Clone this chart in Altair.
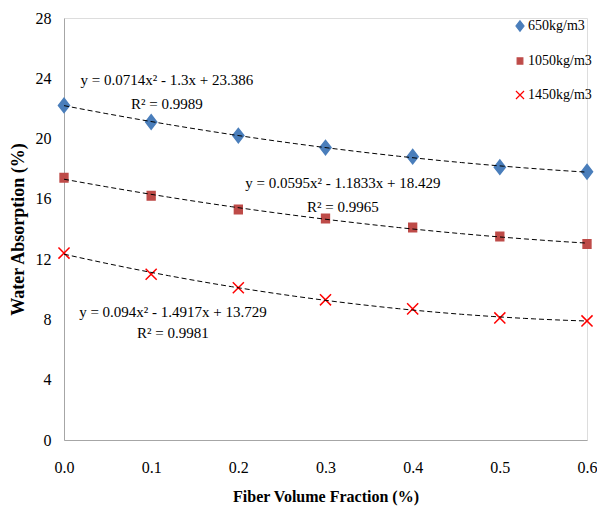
import altair as alt
import pandas as pd

fiber = [0.0, 0.1, 0.2, 0.3, 0.4, 0.5, 0.6]
w650 = [22.2, 21.1, 20.2, 19.4, 18.8, 18.1, 17.8]
w1050 = [17.4, 16.2, 15.3, 14.7, 14.1, 13.5, 13.0]
w1450 = [12.4, 11.0, 10.1, 9.3, 8.7, 8.1, 7.9]
series_names = ["650kg/m3", "1050kg/m3", "1450kg/m3"]

eq_text = [
    "y = 0.0714x² - 1.3x + 23.386", "R² = 0.9989",
    "y = 0.0595x² - 1.1833x + 18.429", "R² = 0.9965",
    "y = 0.094x² - 1.4917x + 13.729", "R² = 0.9981",
]
eq_x = [0.118, 0.118, 0.32, 0.32, 0.125, 0.125]
eq_y = [23.9, 22.3, 17.05, 15.45, 8.5, 7.1]

rows = []
for name, vals in zip(series_names, [w650, w1050, w1450]):
    for xv, yv in zip(fiber, vals):
        rows.append({"x": xv, "y": yv, "series": name})
df = pd.DataFrame(rows)
ann = pd.DataFrame({"x": eq_x, "y": eq_y, "t": eq_text})

FONT = "Liberation Serif"
xs = alt.Scale(domain=[0, 0.6], nice=False)
ys = alt.Scale(domain=[0, 28], nice=False)

diamond = "M0,-1.1L0.85,0L0,1.1L-0.85,0Z"
square = "M-0.6,-0.65H0.6V0.65H-0.6Z"
cross = "M-0.85,-0.85L0.85,0.85M0.85,-0.85L-0.85,0.85"

legend = alt.Legend(
    title=None, orient="none", legendX=449, legendY=1,
    labelFont=FONT, labelFontSize=14, labelColor="#000000", labelOffset=1,
    rowPadding=20, padding=0, symbolStrokeWidth=1.2, symbolSize=90,
)

points = alt.Chart(df).mark_point(filled=True, strokeWidth=1.5, opacity=1, size=170).encode(
    x=alt.X("x:Q", scale=xs, axis=alt.Axis(
        title="Fiber Volume Fraction (%)", values=fiber, format=".1f",
        grid=False, ticks=False, labelPadding=19, titlePadding=13,
        labelFlush=False, labelOverlap=False,
        domainColor="#a6a6a6", labelFont=FONT, labelFontSize=16,
        labelColor="#000000", titleFont=FONT, titleFontSize=16,
        titleFontWeight="bold", titleColor="#000000")),
    y=alt.Y("y:Q", scale=ys, axis=alt.Axis(
        title="Water Absorption (%)", values=[0, 4, 8, 12, 16, 20, 24, 28],
        grid=False, ticks=False, labelPadding=13, titlePadding=8,
        labelFlush=False, labelOverlap=False,
        domainColor="#a6a6a6", labelFont=FONT, labelFontSize=16,
        labelColor="#000000", titleFont=FONT, titleFontSize=18,
        titleFontWeight="bold", titleColor="#000000")),
    shape=alt.Shape("series:N", sort=series_names, legend=legend,
                    scale=alt.Scale(domain=series_names, range=[diamond, square, cross])),
    fill=alt.Fill("series:N", sort=series_names, legend=legend,
                  scale=alt.Scale(domain=series_names, range=["#4a7ebb", "#be4b48", "transparent"])),
    stroke=alt.Stroke("series:N", sort=series_names, legend=legend,
                      scale=alt.Scale(domain=series_names, range=["#4a7ebb", "#be4b48", "#ff0000"])),
)

trend = alt.Chart(df).transform_regression(
    "x", "y", method="poly", order=2, groupby=["series"], extent=[0, 0.6]
).mark_line(color="#000000", strokeDash=[5, 3], strokeWidth=1).encode(
    x=alt.X("x:Q", scale=xs),
    y=alt.Y("y:Q", scale=ys),
    detail="series:N",
)

text = alt.Chart(ann).mark_text(font=FONT, fontSize=15, color="#000000", align="center").encode(
    x=alt.X("x:Q", scale=xs),
    y=alt.Y("y:Q", scale=ys),
    text="t:N",
)

chart = alt.layer(points, trend, text).properties(
    width=523, height=422,
    autosize=alt.AutoSizeParams(type="none"),
    padding={"left": 56, "top": 10, "right": 10, "bottom": 70},
).configure_view(stroke=None).configure(background="white")

chart.save("out.html", embed_options={"renderer": "svg", "actions": False})
